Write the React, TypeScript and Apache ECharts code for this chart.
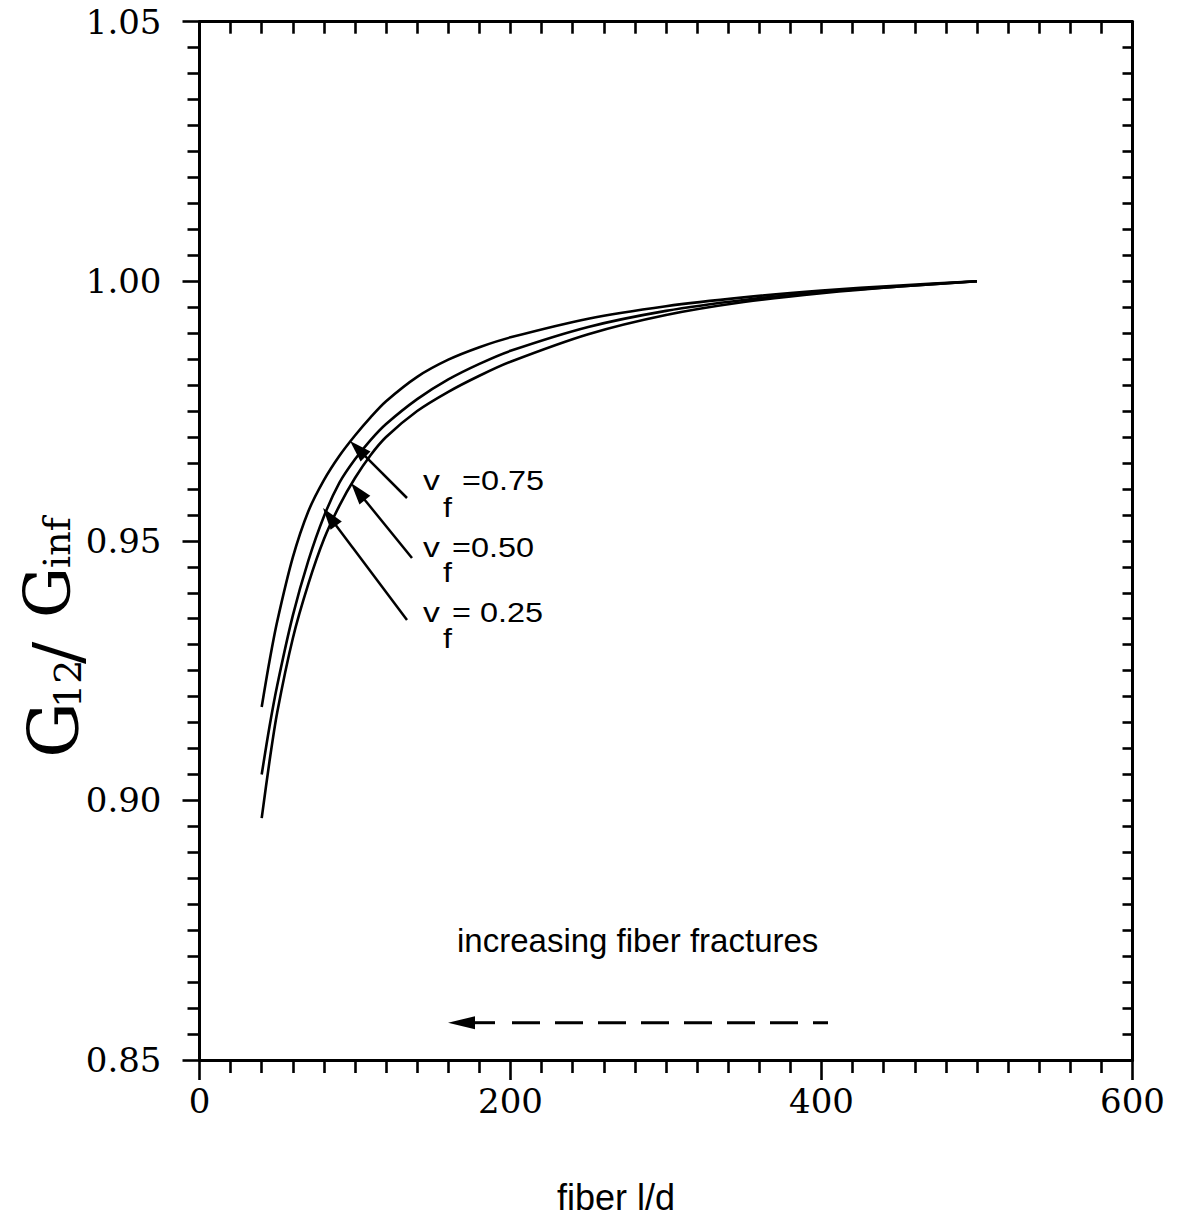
import React, { useEffect, useRef } from "react";
import * as echarts from "echarts";

// ---- data ----
const fiberLD = [40, 45, 50, 60, 70, 80, 90, 100, 110, 120, 140, 160, 180, 200, 250, 300, 350, 400, 450, 500];
const ratioVf075 = [0.918, 0.9268, 0.9345, 0.9468, 0.9557, 0.9617, 0.9664, 0.9703, 0.9738, 0.9769, 0.9816, 0.9849, 0.9873, 0.9892, 0.9928, 0.9952, 0.9969, 0.9982, 0.9992, 1.0];
const ratioVf050 = [0.905, 0.9142, 0.9222, 0.9356, 0.9462, 0.9547, 0.9612, 0.9657, 0.9694, 0.9725, 0.9773, 0.9811, 0.9841, 0.9866, 0.9912, 0.9943, 0.9964, 0.9979, 0.999, 1.0];
const ratioVf025 = [0.8966, 0.9075, 0.917, 0.9312, 0.9417, 0.9503, 0.9568, 0.9621, 0.9665, 0.97, 0.975, 0.9787, 0.9818, 0.9845, 0.9898, 0.9935, 0.996, 0.9977, 0.999, 1.0];
const seriesNames = ["vf=0.75", "vf=0.50", "vf=0.25"];
const xTickValues = [0, 200, 400, 600];
const yTickLabels = ["0.85", "0.90", "0.95", "1.00", "1.05"];

const SERIF = "DejaVu Serif";
const SANS = "Liberation Sans";
const C = 0.346; // central-baseline offset (em)

function txt(text: string, x: number, baseline: number, size: number, family: string, extra: any = {}) {
  return {
    type: "text",
    x,
    y: baseline - C * size,
    style: { text, fontSize: size, fontFamily: family, fill: "#000", textAlign: "left", textVerticalAlign: "middle", verticalAlign: "middle" },
    ...extra,
  };
}

function rtxt(text: string, baselineX: number, startY: number, size: number, family: string) {
  return {
    type: "text",
    x: baselineX - C * size,
    y: startY,
    rotation: Math.PI / 2,
    style: { text, fontSize: size, fontFamily: family, fill: "#000", textAlign: "left", textVerticalAlign: "middle", verticalAlign: "middle" },
  };
}

function arrow(tail: number[], tip: number[], headLen: number, halfW: number, lw: number) {
  const dx = tip[0] - tail[0];
  const dy = tip[1] - tail[1];
  const L = Math.hypot(dx, dy);
  const ux = dx / L, uy = dy / L;
  const bx = tip[0] - ux * headLen, by = tip[1] - uy * headLen;
  const px = -uy, py = ux;
  return [
    { type: "line", shape: { x1: tail[0], y1: tail[1], x2: bx + ux * 3, y2: by + uy * 3 }, style: { stroke: "#000", lineWidth: lw } },
    {
      type: "polygon",
      shape: { points: [[tip[0], tip[1]], [bx + px * halfW, by + py * halfW], [bx - px * halfW, by - py * halfW]] },
      style: { fill: "#000" },
    },
  ];
}

export default function App() {
  const ref = useRef<HTMLDivElement>(null);
  useEffect(() => {
    if (!ref.current) return;
    const chart = echarts.init(ref.current, null, { renderer: "svg" });
    const axisLine = { show: true, onZero: false, lineStyle: { color: "#000", width: 3 } };
    const tickStyle = { color: "#000", width: 2.6 };
    const mk = (vals: number[]) => fiberLD.map((x, i) => [x, vals[i]]);
    const vfs = [ratioVf075, ratioVf050, ratioVf025];

    const graphic: any[] = [
      // y-axis title G12 / G^inf
      rtxt("G", 78, 758, 70, SERIF),
      rtxt("12", 81, 708, 38, SERIF),
      rtxt("/", 80, 664, 66, SERIF),
      rtxt("G", 70, 618, 64, SERIF),
      rtxt("inf", 70, 568, 38, SERIF),
      // x-axis title
      txt("fiber l/d", 557, 1210, 36, SANS),
      // annotations
      txt("v", 423, 490, 27, SANS, { scaleX: 1.25 }),
      txt("f", 443, 517, 27, SANS, { scaleX: 1.2 }),
      txt("=0.75", 462, 490, 27, SANS, { scaleX: 1.2 }),
      txt("v", 423, 557, 27, SANS, { scaleX: 1.25 }),
      txt("f", 443, 582, 27, SANS, { scaleX: 1.2 }),
      txt("=0.50", 452, 557, 27, SANS, { scaleX: 1.2 }),
      txt("v", 423, 622, 27, SANS, { scaleX: 1.25 }),
      txt("f", 443, 648, 27, SANS, { scaleX: 1.2 }),
      txt("= 0.25", 452, 622, 27, SANS, { scaleX: 1.2 }),
      ...arrow([407, 498], [350, 441], 22, 7, 2.5),
      ...arrow([412, 558], [351, 483], 22, 7, 2.5),
      ...arrow([407, 620], [323, 508], 22, 7, 2.5),
      txt("increasing fiber fractures", 457, 952, 33, SANS),
      // dashed arrow
      { type: "polygon", shape: { points: [[448, 1022.7], [475, 1016.2], [475, 1029.2]] }, style: { fill: "#000" } },
      { type: "line", shape: { x1: 472, y1: 1022.7, x2: 495, y2: 1022.7 }, style: { stroke: "#000", lineWidth: 3 } },
      { type: "line", shape: { x1: 512, y1: 1022.7, x2: 828, y2: 1022.7 }, style: { stroke: "#000", lineWidth: 3, lineDash: [28, 15] } },
    ];

    chart.setOption({
      animation: false,
      backgroundColor: "#fff",
      grid: { left: 199.5, top: 21.7, width: 933, height: 1038.3, containLabel: false },
      xAxis: [
        {
          type: "value", position: "bottom", min: 0, max: 600, interval: 200,
          axisLine, axisTick: { show: true, inside: false, length: 20, lineStyle: tickStyle },
          minorTick: { show: true, splitNumber: 10, length: 13, lineStyle: tickStyle },
          axisLabel: {
            show: true, margin: 24, fontFamily: SERIF, fontSize: 34, color: "#000", showMinLabel: true, showMaxLabel: true,
            formatter: (v: number) => (xTickValues.includes(v) ? String(v) : ""),
          },
          splitLine: { show: false }, minorSplitLine: { show: false },
        },
        {
          type: "value", position: "top", min: 0, max: 600, interval: 200,
          axisLine, axisTick: { show: true, inside: true, length: 12, lineStyle: tickStyle },
          minorTick: { show: true, splitNumber: 10, length: 12, lineStyle: tickStyle },
          axisLabel: { show: false }, splitLine: { show: false },
        },
      ],
      yAxis: [
        {
          type: "value", position: "left", min: 0.85, max: 1.05, interval: 0.05,
          axisLine, axisTick: { show: true, inside: false, length: 17, lineStyle: tickStyle },
          minorTick: { show: true, splitNumber: 10, length: 12, lineStyle: tickStyle },
          axisLabel: {
            show: true, margin: 38, fontFamily: SERIF, fontSize: 34, color: "#000", showMinLabel: true, showMaxLabel: true,
            formatter: (v: number) => {
              const s = v.toFixed(2);
              return yTickLabels.includes(s) ? s : "";
            },
          },
          splitLine: { show: false }, minorSplitLine: { show: false },
        },
        {
          type: "value", position: "right", min: 0.85, max: 1.05, interval: 0.05,
          axisLine, axisTick: { show: true, inside: true, length: 10, lineStyle: tickStyle },
          minorTick: { show: true, splitNumber: 10, length: 10, lineStyle: tickStyle },
          axisLabel: { show: false }, splitLine: { show: false },
        },
      ],
      series: vfs.map((vals, i) => ({
        name: seriesNames[i],
        type: "line",
        xAxisIndex: 0,
        yAxisIndex: 0,
        data: mk(vals),
        smooth: 0.3,
        showSymbol: false,
        symbol: "none",
        lineStyle: { color: "#000", width: 2.6 },
        z: 3,
      })),
      graphic,
    });
    return () => chart.dispose();
  }, []);
  return <div ref={ref} style={{ position: "absolute", left: 0, top: 0, width: 1179, height: 1218, background: "#fff" }} />;
}
